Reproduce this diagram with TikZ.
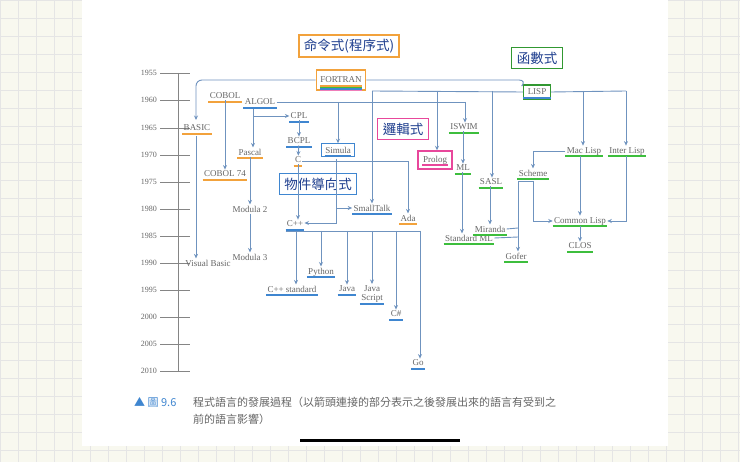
\documentclass[tikz,border=0pt]{standalone}
\usepackage{fontspec}
\setmainfont{Liberation Serif}
\newfontfamily\cjk{Noto Sans CJK TC}
\usetikzlibrary{arrows.meta}
\definecolor{arr}{HTML}{6F93BF}
\definecolor{ubl}{HTML}{3F86D0}
\definecolor{ugr}{HTML}{3DBE3D}
\definecolor{uor}{HTML}{F2A23C}
\definecolor{umg}{HTML}{E8479B}
\definecolor{hnd}{HTML}{1F3F8F}
\definecolor{txt}{HTML}{666666}
\begin{document}
\begin{tikzpicture}[x=1pt,y=-1pt,
  lang/.style={font=\fontsize{9}{10}\selectfont,text=txt,inner sep=1.2pt},
  ln/.style={draw=txt!80, line width=0.8pt},
  ar/.style={draw=arr, line width=0.9pt,-{Stealth[length=4.5pt,width=4pt]}},
  pl/.style={draw=arr, line width=0.9pt},
  ulo/.style={draw=uor, line width=1.8pt},
  ulb/.style={draw=ubl, line width=1.8pt},
  ulg/.style={draw=ugr, line width=1.8pt},
  ulm/.style={draw=umg, line width=1.8pt},
  hand/.style={font=\cjk\fontsize{13.5}{14}\selectfont,text=hnd,inner xsep=5pt,inner ysep=4pt,line width=1.2pt},
  yr/.style={font=\fontsize{8}{9}\selectfont,text=txt,anchor=east,inner sep=0pt}]
\useasboundingbox (0,0) rectangle (740,462);
\fill[yellow!4!white!97!black] (0,0) rectangle (740,462);
\foreach \i in {0,18,...,740} \draw[black!10,line width=0.4pt] (\i,0) -- (\i,462);
\foreach \i in {0,18,...,462} \draw[black!10,line width=0.4pt] (0,\i) -- (740,\i);
\fill[white] (82,0) rectangle (668,446);
\fill[black] (300,439) rectangle (460,442);
% timeline
\draw[ln] (178,73) -- (178,371);
\foreach \y/\t in {73/1955,100/1960,128/1965,155/1970,182/1975,209/1980,236/1985,263/1990,290/1995,317/2000,344/2005,371/2010}{
  \node[yr] (y\t) at (157,\y) {\t};
  \draw[ln] (160,\y) -- (190,\y);}
% boxes
\node[hand,draw=uor] (imp) at (349,46) {命令式(程序式)};
\node[hand,draw=umg] (logic) at (403,129) {邏輯式};
\node[hand,draw=ugr!80!black] (func) at (537,58) {函數式};
\node[hand,draw=ubl] (oop) at (318,184) {物件導向式};
% languages
\node[lang,draw=uor,line width=1.2pt,inner xsep=4pt,inner ysep=7pt] (fortran) at (341,80) {FORTRAN};
\foreach \c/\d in {uor/0,ugr/1.5,ubl/3,umg!70/4.5}
  \draw[\c,line width=1.2pt] (320,86+\d) -- (362,86+\d);
\node[lang] (cobol) at (225,96) {COBOL};
\node[lang] (algol) at (260,102) {ALGOL};
\node[lang] (cpl) at (299,116) {CPL};
\node[lang] (bcpl) at (299,141) {BCPL};
\node[lang] (c) at (298,160) {C};
\node[lang,draw=ubl,line width=1.2pt,inner xsep=4pt,inner ysep=3pt] (simula) at (338,150) {Simula};
\node[lang] (pascal) at (250,152) {Pascal};
\node[lang] (basic) at (197,128) {BASIC};
\node[lang] (cobol74) at (225,174) {COBOL 74};
\node[lang] (modula2) at (250,209) {Modula 2};
\node[lang] (smalltalk) at (372,208) {SmallTalk};
\node[lang] (ada) at (408,218) {Ada};
\node[lang] (cpp) at (295,224) {C++};
\node[lang] (modula3) at (250,257) {Modula 3};
\node[lang] (vb) at (208,263) {Visual Basic};
\node[lang] (python) at (321,272) {Python};
\node[lang] (cppstd) at (292,289) {C++ standard};
\node[lang] (java) at (347,289) {Java};
\node[lang,align=center,font=\fontsize{9}{9.5}\selectfont] (js) at (372,294) {Java\\Script};
\node[lang] (cs) at (396,314) {C\#};
\node[lang] (go) at (418,363) {Go};
\node[lang,draw=umg,line width=1.2pt,inner xsep=5pt,inner ysep=5pt] (prolog) at (435,160) {Prolog};
\node[lang,draw=ugr!80!black,line width=1.2pt,inner xsep=4pt,inner ysep=4pt] (lisp) at (537,92) {LISP};
\node[lang] (iswim) at (464,127) {ISWIM};
\node[lang] (ml) at (463,168) {ML};
\node[lang] (sasl) at (491,182) {SASL};
\node[lang] (scheme) at (533,173) {Scheme};
\node[lang] (maclisp) at (584,151) {Mac Lisp};
\node[lang] (interlisp) at (627,151) {Inter Lisp};
\node[lang] (miranda) at (490,229) {Miranda};
\node[lang] (sml) at (469,238) {Standard ML};
\node[lang] (common) at (580,221) {Common Lisp};
\node[lang] (gofer) at (516,256) {Gofer};
\node[lang] (clos) at (580,246) {CLOS};
% underlines
\foreach \n in {cobol,basic,cobol74,pascal,ada,c} \draw[ulo] ([yshift=-3pt]\n.base west) -- ([yshift=-3pt]\n.base east);
\foreach \n in {algol,cpl,bcpl,smalltalk,cpp,python,cppstd,java,js,cs,go,lisp} \draw[ulb] ([yshift=-3pt]\n.base west) -- ([yshift=-3pt]\n.base east);
\draw[ulb] ([xshift=4pt,yshift=-3pt]simula.base west) -- ([xshift=-4pt,yshift=-3pt]simula.base east);
\draw[ulm] ([xshift=5pt,yshift=-3pt]prolog.base west) -- ([xshift=-5pt,yshift=-3pt]prolog.base east);
\foreach \n in {iswim,ml,sasl,scheme,maclisp,interlisp,miranda,sml,common,gofer,clos} \draw[ulg] ([yshift=-3pt]\n.base west) -- ([yshift=-3pt]\n.base east);
% connectors
\draw[ar,rounded corners=6pt] (fortran.west) -- (196,80) -- (196,120);
\draw[ar] (196,136) -- (vb.north -| 196,0);
\draw[pl,rounded corners=8pt] (fortran.east) -- (527,80) -- (lisp.north west);
\draw[pl] (lisp.west) -- (372,91);
\draw[ar] (372,91) -- (smalltalk.north -| 372,0);
\draw[ar] (437,91) -- (prolog.north -| 437,0);
\draw[ar] (492,91) -- (sasl.north -| 492,0);
\draw[pl] (lisp.east) -- (626,91);
\draw[ar] (583,91) -- (maclisp.north -| 583,0);
\draw[ar] (626,91) -- (interlisp.north -| 626,0);
\draw[pl] (algol.east |- 0,102) -- (465,102);
\draw[ar] (465,102) -- (iswim.north -| 465,0);
\draw[ar] (338,102) -- (simula.north);
\draw[ar] (cobol.south) -- (cobol74.north);
\draw[ar] (253,109) -- (pascal.north -| 253,0);
\draw[ar] (253,116) -- (cpl.west);
\draw[ar] (cpl) -- (bcpl);
\draw[ar] (bcpl) -- (c);
\draw[ar] (c.east |- 0,161) -- (408,161) -- (ada.north -| 408,0);
\draw[ar] (c.south) -- (cpp.north -| c.south);
\draw[ar] (336,159) -- (336,223) -- (cpp.east |- 0,223);
\draw[ar] (336,208) -- (smalltalk.west);
\draw[ar] (pascal.south -| 250,0) -- (modula2.north -| 250,0);
\draw[ar] (modula2.south -| 250,0) -- (modula3.north -| 250,0);
\draw[pl] (cpp.south west |- 0,231) -- (420,231);
\draw[ar] (296,231) -- (cppstd.north -| 296,0);
\draw[ar] (321,231) -- (python.north);
\draw[ar] (347,231) -- (java.north);
\draw[ar] (372,231) -- (js.north);
\draw[ar] (396,231) -- (cs.north);
\draw[ar] (420,231) -- (go.north -| 420,0);
\draw[ar] (iswim.south -| 463,0) -- (ml.north -| 463,0);
\draw[ar] (ml.south -| 462,0) -- (sml.north -| 462,0);
\draw[ar] (sasl.south -| 490,0) -- (miranda.north -| 490,0);
\draw[ar] (maclisp.west) -- (533,151) -- (scheme.north);
\draw[ar] (maclisp.south -| 580,0) -- (common.north);
\draw[ar] (interlisp.south -| 626,0) -- (626,221) -- (common.east);
\draw[ar] (533,181) -- (533,221) -- (common.west);
\draw[ar] (533,181) -- (518,181) -- (gofer.north -| 518,0);
\draw[pl] (miranda.east) -- (518,228);
\draw[pl] (sml.east) -- (518,237);
\draw[ar] (common) -- (clos);
% caption
\node[anchor=base west,inner sep=0pt,font=\cjk\fontsize{11}{12}\selectfont,text=ubl] (capnum) at (134,407) {▲ 圖 9.6};
\node[anchor=base west,inner sep=0pt,font=\cjk\fontsize{11}{12}\selectfont,text=txt] (cap1) at (193,407) {程式語言的發展過程（以箭頭連接的部分表示之後發展出來的語言有受到之};
\node[anchor=base west,inner sep=0pt,font=\cjk\fontsize{11}{12}\selectfont,text=txt] (cap2) at (193,424) {前的語言影響）};
\end{tikzpicture}
\end{document}
